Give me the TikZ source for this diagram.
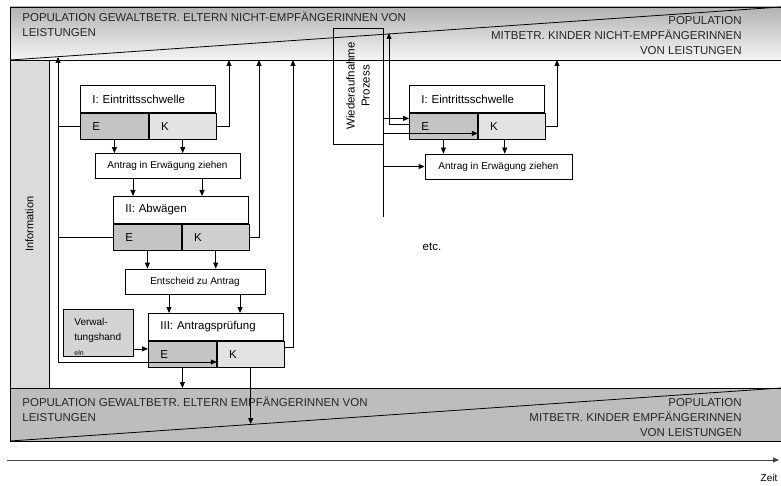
\documentclass[tikz,border=0pt]{standalone}
\usepackage{fontspec}
\setmainfont{Liberation Sans}
\usetikzlibrary{arrows.meta}

\begin{document}
\begin{tikzpicture}[x=1pt,y=-1pt,line width=0.8pt,
    >={Triangle[length=6pt,width=5pt]},
    kopf/.style={draw,fill=white,anchor=north west,text width=111pt,inner xsep=12pt,inner ysep=0pt,minimum height=27pt,font=\fontsize{11.5}{14}\selectfont},
    feldE/.style={draw,fill=black!23,anchor=north west,text width=44pt,inner xsep=12pt,inner ysep=0pt,minimum height=26pt,font=\fontsize{11.5}{14}\selectfont},
    feldK/.style={feldE,fill=black!11,text width=43pt},
    schritt/.style={draw,fill=white,minimum height=25pt,inner sep=0pt,font=\fontsize{10}{12}\selectfont},
    band/.style={inner sep=0pt,text=black!85,font=\fontsize{11.5}{15}\selectfont}]

  \useasboundingbox (0,0) rectangle (781,486);

  %Populationen oben
  \shade[top color=black!30,bottom color=black!4] (10,7) rectangle (781,60);
  \draw (781,7) -- (10,7) -- (10,60) -- (781,60);
  \draw (10,60) -- (781,7);
  \node[band,anchor=base west,align=left] (PopOben) at (22,37) {POPULATION GEWALTBETR. ELTERN NICHT-EMPFÄNGERINNEN VON\\LEISTUNGEN};
  \node[band,anchor=base east,align=right] (KinderOben) at (742,55) {POPULATION\\MITBETR. KINDER NICHT-EMPFÄNGERINNEN\\VON LEISTUNGEN};

  %Populationen unten
  \fill[black!26] (10,388) rectangle (781,441);
  \draw (781,388) -- (10,388) -- (10,441) -- (781,441);
  \draw (10,441) -- (781,388);
  \node[band,anchor=base west,align=left] (PopUnten) at (22,421) {POPULATION GEWALTBETR. ELTERN EMPFÄNGERINNEN VON\\LEISTUNGEN};
  \node[band,anchor=base east,align=right] (KinderUnten) at (742,436) {POPULATION\\MITBETR. KINDER EMPFÄNGERINNEN\\VON LEISTUNGEN};

  %Information
  \node[draw,fill=black!14,rotate=90,minimum width=328pt,minimum height=39pt,font=\fontsize{11}{13}\selectfont] (Information) at (29.5,224) {Information};

  %Kasten I
  \node[kopf] (T1) at (80,85) {I: Eintrittsschwelle};
  \node[feldE] (E1) at (T1.south west) {E};
  \node[feldK] (K1) at (E1.north east) {K};
  \node[schritt,minimum width=145pt] (A1) at (167.5,166) {Antrag in Erwägung ziehen};

  %Kasten II
  \node[kopf] (T2) at (113,196) {II: Abwägen};
  \node[feldE] (E2) at (T2.south west) {E};
  \node[feldK,fill=black!19] (K2) at (E2.north east) {K};
  \node[schritt,minimum width=140pt] (B1) at (195,281.5) {Entscheid zu Antrag};

  %Kasten III
  \node[kopf] (T3) at (148,313) {III: Antragsprüfung};
  \node[feldE] (E3) at (T3.south west) {E};
  \node[feldK] (K3) at (E3.north east) {K};

  %Verwaltungshandeln
  \node[draw,fill=black!17,anchor=north west,minimum width=70pt,text height=16.5pt,text depth=30.5pt,inner ysep=0pt,text width=48pt,inner xsep=11pt,align=left,font=\fontsize{10}{15}\selectfont] (V) at (63,309) {Verwal-\\tungshand\\{\fontsize{7}{8}\selectfont eln}};

  %Wiederaufnahme
  \node[draw,rotate=90,minimum width=116pt,minimum height=50pt,align=center,font=\fontsize{11.5}{15}\selectfont] (W) at (358,86) {Wiederaufnahme\\Prozess};

  %Kasten I rechts
  \node[kopf] (T4) at (409,85) {I: Eintrittsschwelle};
  \node[feldE] (E4) at (T4.south west) {E};
  \node[feldK] (K4) at (E4.north east) {K};
  \node[schritt,minimum width=147pt] (A3) at (498.5,166.5) {Antrag in Erwägung ziehen};

  \node[font=\fontsize{11.5}{14}\selectfont] (etc) at (432,247) {etc.};

  %Zeitachse
  \coordinate (Z0) at (7,460);
  \coordinate (Z1) at (779,460);
  \draw[->,black!75] (Z0) -- (Z1);
  \node[font=\fontsize{10}{12}\selectfont] (Zeit) at (769,478) {Zeit};

  %Pfeile nach unten
  \draw[->] (E1.south) -- (E1.south |- A1.north);
  \draw[->] (K1.south) -- (K1.south |- A1.north);
  \draw[->] ([xshift=-34.5pt]A1.south) -- ([xshift=-34.5pt]A1.south |- T2.north);
  \draw[->] ([xshift=34.5pt]A1.south) -- ([xshift=34.5pt]A1.south |- T2.north);
  \draw[->] (E2.south) -- (E2.south |- B1.north);
  \draw[->] (K2.south) -- (K2.south |- B1.north);
  \draw[->] ([xshift=-26pt]B1.south) -- ([xshift=-26pt]B1.south |- T3.north);
  \draw[->] ([xshift=45pt]B1.south) -- ([xshift=45pt]B1.south |- T3.north);
  \coordinate (U1) at (182,388);
  \coordinate (U2) at (248,424);
  \draw[->] (E3.south) -- (E3.south |- U1);
  \draw[->] (K3.south) -- (K3.south |- U2);

  %Rückkopplungen
  \coordinate (R1) at (229,60);
  \coordinate (R2) at (259,60);
  \coordinate (R3) at (293,60);
  \coordinate (R4) at (557,60);
  \coordinate (R5) at (389,33);
  \coordinate (L0) at (58,362);
  \coordinate (L1) at (58,57);
  \draw[->] (K1.east) -| (R1);
  \draw[->] (K2.east) -| (R2);
  \draw[->] ([yshift=7pt]K3.east) -| (R3);
  \draw[->] (K4.east) -| (R4);
  \draw[->] ([yshift=2pt]E4.west) -| (R5);
  \draw (E1.west) -- (E1.west -| L0);
  \draw (E2.west) -- (E2.west -| L0);
  \draw[->] (L0) -- (L1);
  \draw[->] (L0) -- (L0 -| K3.west);
  \draw[->] ([yshift=-16pt]V.east) -- ([yshift=-16pt]V.east -| E3.west);

  %Wiederaufnahme Pfeile
  \draw (W.south west) -- ++(0,73) coordinate (W0);
  \draw[->] ([yshift=26pt]W.south west) -- ([yshift=26pt]W.south west -| E4.west);
  \draw[->] ([yshift=11pt]W.south west) -- ([yshift=11pt]W.south west -| K4.west);
  \draw[->] (A3.west -| W0) -- (A3.west);
  \draw[->] (E4.south) -- (E4.south |- A3.north);
  \draw[->] ([xshift=-7pt]K4.south) -- ([xshift=-7pt]K4.south |- A3.north);
\end{tikzpicture}
\end{document}
